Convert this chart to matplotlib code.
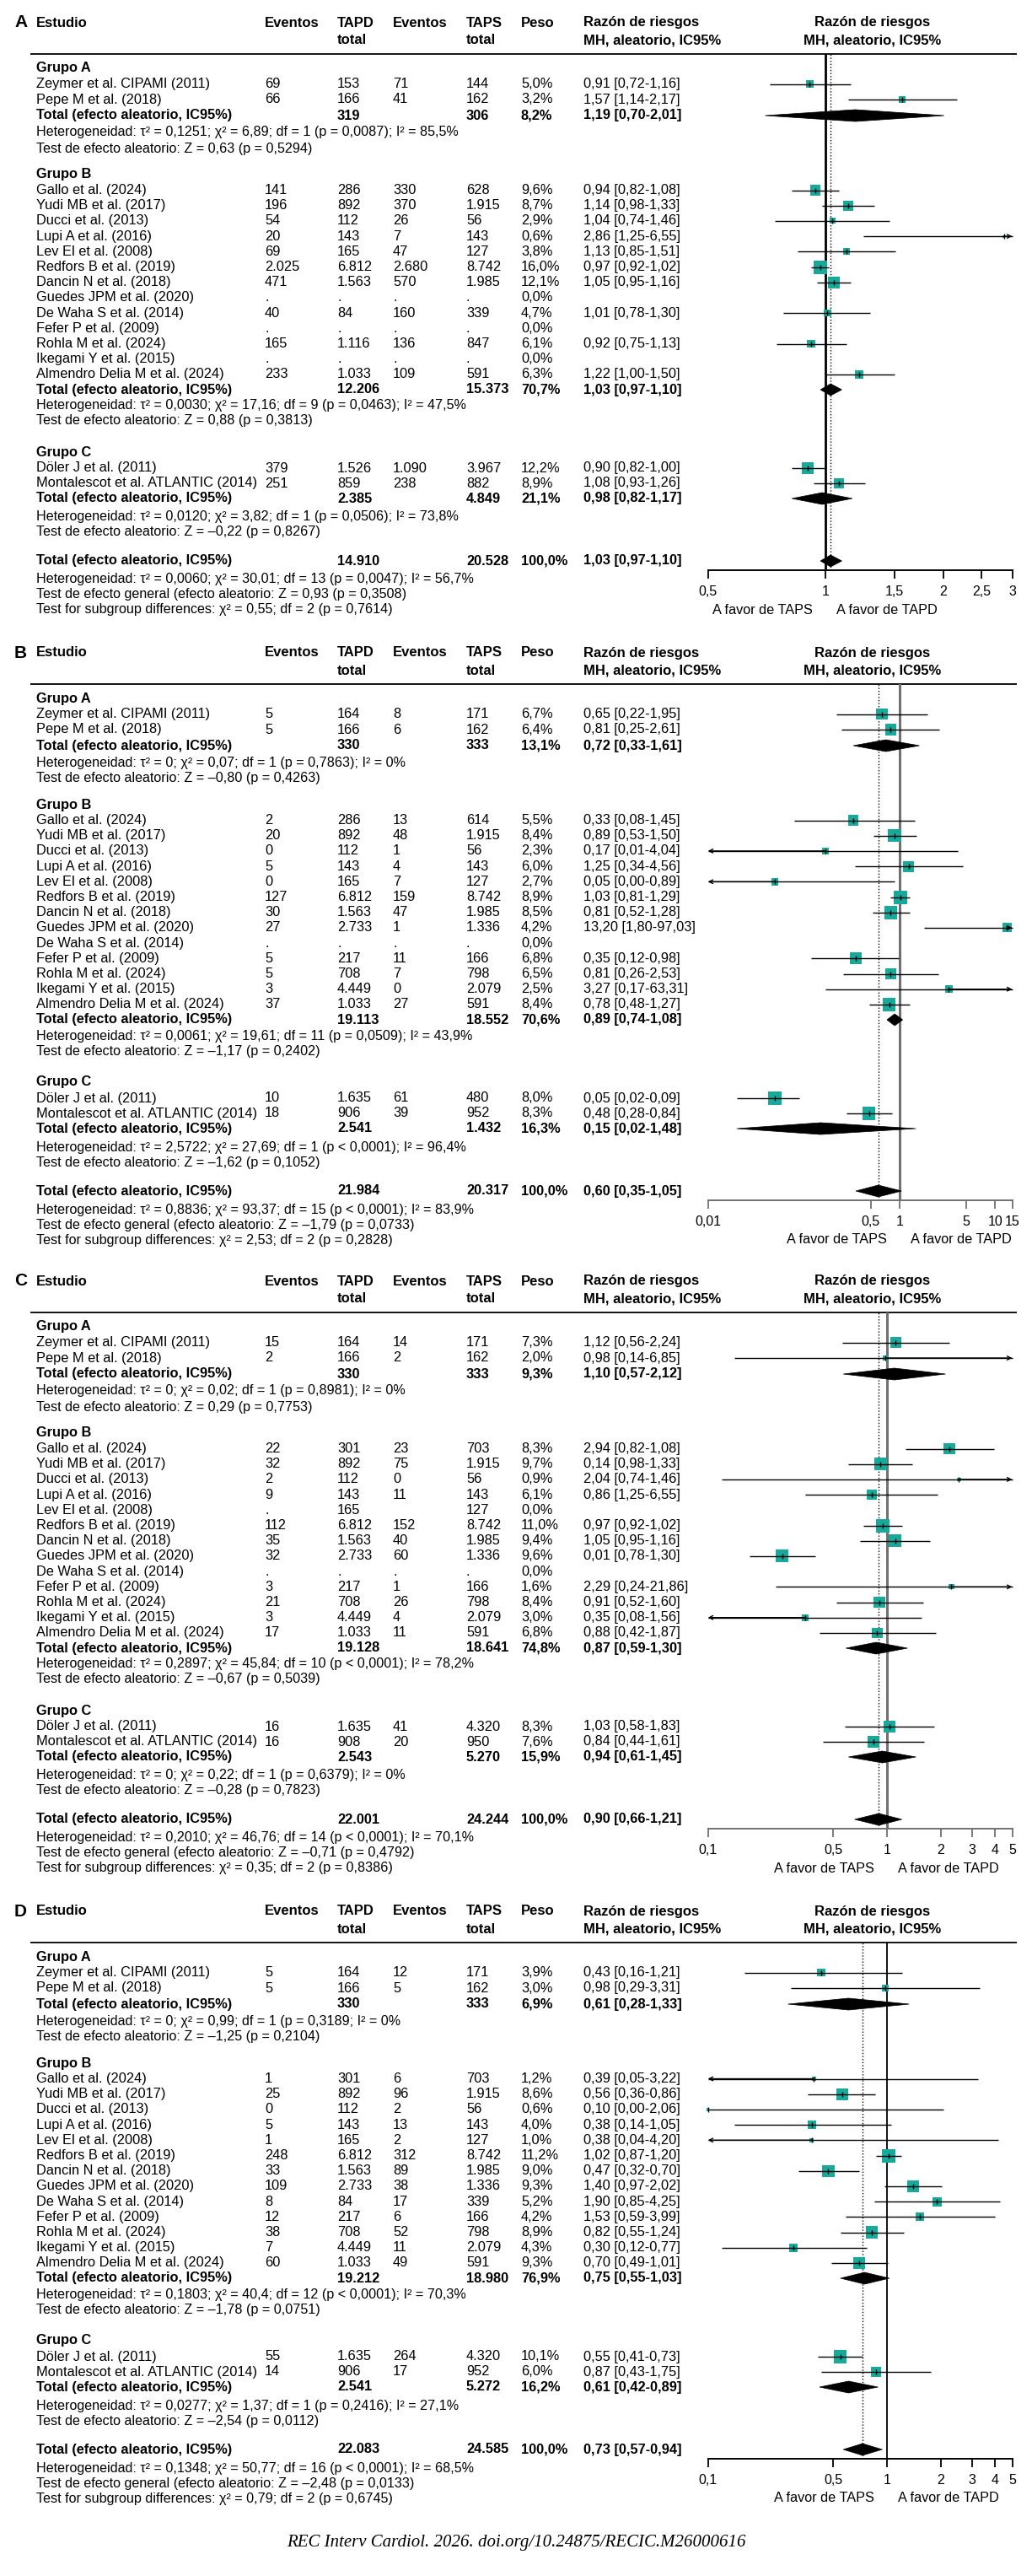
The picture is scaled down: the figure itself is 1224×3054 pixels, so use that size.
import numpy as np
import matplotlib
matplotlib.use("Agg")
import matplotlib.pyplot as plt
from matplotlib.patches import Polygon
from matplotlib.ticker import FixedLocator, FixedFormatter, NullLocator
from matplotlib.transforms import blended_transform_factory, offset_copy

plt.rcParams['font.family'] = ['Liberation Sans', 'DejaVu Sans']

nan = float('nan')

# ---------------------------------------------------------------- data
PANEL_LETTERS = ["A", "B", "C", "D"]
GROUP_NAMES = ["Grupo A", "Grupo B", "Grupo C"]
STUDIES = ["Zeymer et al. CIPAMI (2011)", "Pepe M et al. (2018)",
           "Gallo et al. (2024)", "Yudi MB et al. (2017)", "Ducci et al. (2013)",
           "Lupi A et al. (2016)", "Lev El et al. (2008)", "Redfors B et al. (2019)",
           "Dancin N et al. (2018)", "Guedes JPM et al. (2020)", "De Waha S et al. (2014)",
           "Fefer P et al. (2009)", "Rohla M et al. (2024)", "Ikegami Y et al. (2015)",
           "Almendro Delia M et al. (2024)",
           "Döler J et al. (2011)", "Montalescot et al. ATLANTIC (2014)"]
STUDY_GROUP = [0, 0] + [1] * 13 + [2, 2]

# ---- Panel A
A_ev_tapd = ["69", "66", "141", "196", "54", "20", "69", "2.025", "471", ".", "40", ".", "165", ".", "233", "379", "251"]
A_n_tapd = ["153", "166", "286", "892", "112", "143", "165", "6.812", "1.563", ".", "84", ".", "1.116", ".", "1.033", "1.526", "859"]
A_ev_taps = ["71", "41", "330", "370", "26", "7", "47", "2.680", "570", ".", "160", ".", "136", ".", "109", "1.090", "238"]
A_n_taps = ["144", "162", "628", "1.915", "56", "143", "127", "8.742", "1.985", ".", "339", ".", "847", ".", "591", "3.967", "882"]
A_peso = ["5,0%", "3,2%", "9,6%", "8,7%", "2,9%", "0,6%", "3,8%", "16,0%", "12,1%", "0,0%", "4,7%", "0,0%", "6,1%", "0,0%", "6,3%", "12,2%", "8,9%"]
A_rr_text = ["0,91 [0,72-1,16]", "1,57 [1,14-2,17]", "0,94 [0,82-1,08]", "1,14 [0,98-1,33]", "1,04 [0,74-1,46]",
             "2,86 [1,25-6,55]", "1,13 [0,85-1,51]", "0,97 [0,92-1,02]", "1,05 [0,95-1,16]", "", "1,01 [0,78-1,30]",
             "", "0,92 [0,75-1,13]", "", "1,22 [1,00-1,50]", "0,90 [0,82-1,00]", "1,08 [0,93-1,26]"]
A_rr = [0.91, 1.57, 0.94, 1.14, 1.04, 2.86, 1.13, 0.97, 1.05, nan, 1.01, nan, 0.92, nan, 1.22, 0.90, 1.08]
A_lo = [0.72, 1.14, 0.82, 0.98, 0.74, 1.25, 0.85, 0.92, 0.95, nan, 0.78, nan, 0.75, nan, 1.00, 0.82, 0.93]
A_hi = [1.16, 2.17, 1.08, 1.33, 1.46, 6.55, 1.51, 1.02, 1.16, nan, 1.30, nan, 1.13, nan, 1.50, 1.00, 1.26]
A_tot_n_tapd = ["319", "12.206", "2.385", "14.910"]
A_tot_n_taps = ["306", "15.373", "4.849", "20.528"]
A_tot_peso = ["8,2%", "70,7%", "21,1%", "100,0%"]
A_tot_text = ["1,19 [0,70-2,01]", "1,03 [0,97-1,10]", "0,98 [0,82-1,17]", "1,03 [0,97-1,10]"]
A_tot_rr = [1.19, 1.03, 0.98, 1.03]
A_tot_lo = [0.70, 0.97, 0.82, 0.97]
A_tot_hi = [2.01, 1.10, 1.17, 1.10]
A_het = ["Heterogeneidad: τ² = 0,1251; χ² = 6,89; df = 1 (p = 0,0087); I² = 85,5%",
         "Heterogeneidad: τ² = 0,0030; χ² = 17,16; df = 9 (p = 0,0463); I² = 47,5%",
         "Heterogeneidad: τ² = 0,0120; χ² = 3,82; df = 1 (p = 0,0506); I² = 73,8%",
         "Heterogeneidad: τ² = 0,0060; χ² = 30,01; df = 13 (p = 0,0047); I² = 56,7%"]
A_test = ["Test de efecto aleatorio: Z = 0,63 (p = 0,5294)",
          "Test de efecto aleatorio: Z = 0,88 (p = 0,3813)",
          "Test de efecto aleatorio: Z = –0,22 (p = 0,8267)",
          "Test de efecto general (efecto aleatorio: Z = 0,93 (p = 0,3508)"]
A_subgroup = "Test for subgroup differences: χ² = 0,55; df = 2 (p = 0,7614)"
A_xlim = (0.5, 3)
A_ticks = [0.5, 1, 1.5, 2, 2.5, 3]
A_ticklabels = ["0,5", "1", "1,5", "2", "2,5", "3"]

# ---- Panel B
B_ev_tapd = ["5", "5", "2", "20", "0", "5", "0", "127", "30", "27", ".", "5", "5", "3", "37", "10", "18"]
B_n_tapd = ["164", "166", "286", "892", "112", "143", "165", "6.812", "1.563", "2.733", ".", "217", "708", "4.449", "1.033", "1.635", "906"]
B_ev_taps = ["8", "6", "13", "48", "1", "4", "7", "159", "47", "1", ".", "11", "7", "0", "27", "61", "39"]
B_n_taps = ["171", "162", "614", "1.915", "56", "143", "127", "8.742", "1.985", "1.336", ".", "166", "798", "2.079", "591", "480", "952"]
B_peso = ["6,7%", "6,4%", "5,5%", "8,4%", "2,3%", "6,0%", "2,7%", "8,9%", "8,5%", "4,2%", "0,0%", "6,8%", "6,5%", "2,5%", "8,4%", "8,0%", "8,3%"]
B_rr_text = ["0,65 [0,22-1,95]", "0,81 [0,25-2,61]", "0,33 [0,08-1,45]", "0,89 [0,53-1,50]", "0,17 [0,01-4,04]",
             "1,25 [0,34-4,56]", "0,05 [0,00-0,89]", "1,03 [0,81-1,29]", "0,81 [0,52-1,28]", "13,20 [1,80-97,03]", "",
             "0,35 [0,12-0,98]", "0,81 [0,26-2,53]", "3,27 [0,17-63,31]", "0,78 [0,48-1,27]", "0,05 [0,02-0,09]", "0,48 [0,28-0,84]"]
B_rr = [0.65, 0.81, 0.33, 0.89, 0.17, 1.25, 0.05, 1.03, 0.81, 13.20, nan, 0.35, 0.81, 3.27, 0.78, 0.05, 0.48]
B_lo = [0.22, 0.25, 0.08, 0.53, 0.01, 0.34, 0.003, 0.81, 0.52, 1.80, nan, 0.12, 0.26, 0.17, 0.48, 0.02, 0.28]
B_hi = [1.95, 2.61, 1.45, 1.50, 4.04, 4.56, 0.89, 1.29, 1.28, 97.03, nan, 0.98, 2.53, 63.31, 1.27, 0.09, 0.84]
B_tot_n_tapd = ["330", "19.113", "2.541", "21.984"]
B_tot_n_taps = ["333", "18.552", "1.432", "20.317"]
B_tot_peso = ["13,1%", "70,6%", "16,3%", "100,0%"]
B_tot_text = ["0,72 [0,33-1,61]", "0,89 [0,74-1,08]", "0,15 [0,02-1,48]", "0,60 [0,35-1,05]"]
B_tot_rr = [0.72, 0.89, 0.15, 0.60]
B_tot_lo = [0.33, 0.74, 0.02, 0.35]
B_tot_hi = [1.61, 1.08, 1.48, 1.05]
B_het = ["Heterogeneidad: τ² = 0; χ² = 0,07; df = 1 (p = 0,7863); I² = 0%",
         "Heterogeneidad: τ² = 0,0061; χ² = 19,61; df = 11 (p = 0,0509); I² = 43,9%",
         "Heterogeneidad: τ² = 2,5722; χ² = 27,69; df = 1 (p < 0,0001); I² = 96,4%",
         "Heterogeneidad: τ² = 0,8836; χ² = 93,37; df = 15 (p < 0,0001); I² = 83,9%"]
B_test = ["Test de efecto aleatorio: Z = –0,80 (p = 0,4263)",
          "Test de efecto aleatorio: Z = –1,17 (p = 0,2402)",
          "Test de efecto aleatorio: Z = –1,62 (p = 0,1052)",
          "Test de efecto general (efecto aleatorio: Z = –1,79 (p = 0,0733)"]
B_subgroup = "Test for subgroup differences: χ² = 2,53; df = 2 (p = 0,2828)"
B_xlim = (0.01, 15)
B_ticks = [0.01, 0.5, 1, 5, 10, 15]
B_ticklabels = ["0,01", "0,5", "1", "5", "10", "15"]

# ---- Panel C (label texts as printed; markers as drawn)
C_ev_tapd = ["15", "2", "22", "32", "2", "9", ".", "112", "35", "32", ".", "3", "21", "3", "17", "16", "16"]
C_n_tapd = ["164", "166", "301", "892", "112", "143", "165", "6.812", "1.563", "2.733", ".", "217", "708", "4.449", "1.033", "1.635", "908"]
C_ev_taps = ["14", "2", "23", "75", "0", "11", "", "152", "40", "60", ".", "1", "26", "4", "11", "41", "20"]
C_n_taps = ["171", "162", "703", "1.915", "56", "143", "127", "8.742", "1.985", "1.336", ".", "166", "798", "2.079", "591", "4.320", "950"]
C_peso = ["7,3%", "2,0%", "8,3%", "9,7%", "0,9%", "6,1%", "0,0%", "11,0%", "9,4%", "9,6%", "0,0%", "1,6%", "8,4%", "3,0%", "6,8%", "8,3%", "7,6%"]
C_rr_text = ["1,12 [0,56-2,24]", "0,98 [0,14-6,85]", "2,94 [0,82-1,08]", "0,14 [0,98-1,33]", "2,04 [0,74-1,46]",
             "0,86 [1,25-6,55]", "", "0,97 [0,92-1,02]", "1,05 [0,95-1,16]", "0,01 [0,78-1,30]", "",
             "2,29 [0,24-21,86]", "0,91 [0,52-1,60]", "0,35 [0,08-1,56]", "0,88 [0,42-1,87]", "1,03 [0,58-1,83]", "0,84 [0,44-1,61]"]
C_rr = [1.12, 0.98, 2.23, 0.92, 2.52, 0.82, nan, 0.95, 1.11, 0.26, nan, 2.29, 0.91, 0.35, 0.88, 1.03, 0.84]
C_lo = [0.56, 0.14, 1.27, 0.61, 0.12, 0.35, nan, 0.74, 0.71, 0.17, nan, 0.24, 0.52, 0.08, 0.42, 0.58, 0.44]
C_hi = [2.24, 6.85, 3.94, 1.38, 51.7, 1.92, nan, 1.21, 1.74, 0.40, nan, 21.86, 1.60, 1.56, 1.87, 1.83, 1.61]
C_tot_n_tapd = ["330", "19.128", "2.543", "22.001"]
C_tot_n_taps = ["333", "18.641", "5.270", "24.244"]
C_tot_peso = ["9,3%", "74,8%", "15,9%", "100,0%"]
C_tot_text = ["1,10 [0,57-2,12]", "0,87 [0,59-1,30]", "0,94 [0,61-1,45]", "0,90 [0,66-1,21]"]
C_tot_rr = [1.10, 0.87, 0.94, 0.90]
C_tot_lo = [0.57, 0.59, 0.61, 0.66]
C_tot_hi = [2.12, 1.30, 1.45, 1.21]
C_het = ["Heterogeneidad: τ² = 0; χ² = 0,02; df = 1 (p = 0,8981); I² = 0%",
         "Heterogeneidad: τ² = 0,2897; χ² = 45,84; df = 10 (p < 0,0001); I² = 78,2%",
         "Heterogeneidad: τ² = 0; χ² = 0,22; df = 1 (p = 0,6379); I² = 0%",
         "Heterogeneidad: τ² = 0,2010; χ² = 46,76; df = 14 (p < 0,0001); I² = 70,1%"]
C_test = ["Test de efecto aleatorio: Z = 0,29 (p = 0,7753)",
          "Test de efecto aleatorio: Z = –0,67 (p = 0,5039)",
          "Test de efecto aleatorio: Z = –0,28 (p = 0,7823)",
          "Test de efecto general (efecto aleatorio: Z = –0,71 (p = 0,4792)"]
C_subgroup = "Test for subgroup differences: χ² = 0,35; df = 2 (p = 0,8386)"
C_xlim = (0.1, 5)
C_ticks = [0.1, 0.5, 1, 2, 3, 4, 5]
C_ticklabels = ["0,1", "0,5", "1", "2", "3", "4", "5"]

# ---- Panel D
D_ev_tapd = ["5", "5", "1", "25", "0", "5", "1", "248", "33", "109", "8", "12", "38", "7", "60", "55", "14"]
D_n_tapd = ["164", "166", "301", "892", "112", "143", "165", "6.812", "1.563", "2.733", "84", "217", "708", "4.449", "1.033", "1.635", "906"]
D_ev_taps = ["12", "5", "6", "96", "2", "13", "2", "312", "89", "38", "17", "6", "52", "11", "49", "264", "17"]
D_n_taps = ["171", "162", "703", "1.915", "56", "143", "127", "8.742", "1.985", "1.336", "339", "166", "798", "2.079", "591", "4.320", "952"]
D_peso = ["3,9%", "3,0%", "1,2%", "8,6%", "0,6%", "4,0%", "1,0%", "11,2%", "9,0%", "9,3%", "5,2%", "4,2%", "8,9%", "4,3%", "9,3%", "10,1%", "6,0%"]
D_rr_text = ["0,43 [0,16-1,21]", "0,98 [0,29-3,31]", "0,39 [0,05-3,22]", "0,56 [0,36-0,86]", "0,10 [0,00-2,06]",
             "0,38 [0,14-1,05]", "0,38 [0,04-4,20]", "1,02 [0,87-1,20]", "0,47 [0,32-0,70]", "1,40 [0,97-2,02]",
             "1,90 [0,85-4,25]", "1,53 [0,59-3,99]", "0,82 [0,55-1,24]", "0,30 [0,12-0,77]", "0,70 [0,49-1,01]",
             "0,55 [0,41-0,73]", "0,87 [0,43-1,75]"]
D_rr = [0.43, 0.98, 0.39, 0.56, 0.10, 0.38, 0.38, 1.02, 0.47, 1.40, 1.90, 1.53, 0.82, 0.30, 0.70, 0.55, 0.87]
D_lo = [0.16, 0.29, 0.05, 0.36, 0.005, 0.14, 0.04, 0.87, 0.32, 0.97, 0.85, 0.59, 0.55, 0.12, 0.49, 0.41, 0.43]
D_hi = [1.21, 3.31, 3.22, 0.86, 2.06, 1.05, 4.20, 1.20, 0.70, 2.02, 4.25, 3.99, 1.24, 0.77, 1.01, 0.73, 1.75]
D_tot_n_tapd = ["330", "19.212", "2.541", "22.083"]
D_tot_n_taps = ["333", "18.980", "5.272", "24.585"]
D_tot_peso = ["6,9%", "76,9%", "16,2%", "100,0%"]
D_tot_text = ["0,61 [0,28-1,33]", "0,75 [0,55-1,03]", "0,61 [0,42-0,89]", "0,73 [0,57-0,94]"]
D_tot_rr = [0.61, 0.75, 0.61, 0.73]
D_tot_lo = [0.28, 0.55, 0.42, 0.57]
D_tot_hi = [1.33, 1.03, 0.89, 0.94]
D_het = ["Heterogeneidad: τ² = 0; χ² = 0,99; df = 1 (p = 0,3189; I² = 0%",
         "Heterogeneidad: τ² = 0,1803; χ² = 40,4; df = 12 (p < 0,0001); I² = 70,3%",
         "Heterogeneidad: τ² = 0,0277; χ² = 1,37; df = 1 (p = 0,2416); I² = 27,1%",
         "Heterogeneidad: τ² = 0,1348; χ² = 50,77; df = 16 (p < 0,0001); I² = 68,5%"]
D_test = ["Test de efecto aleatorio: Z = –1,25 (p = 0,2104)",
          "Test de efecto aleatorio: Z = –1,78 (p = 0,0751)",
          "Test de efecto aleatorio: Z = –2,54 (p = 0,0112)",
          "Test de efecto general (efecto aleatorio: Z = –2,48 (p = 0,0133)"]
D_subgroup = "Test for subgroup differences: χ² = 0,79; df = 2 (p = 0,6745)"
D_xlim = (0.1, 5)
D_ticks = [0.1, 0.5, 1, 2, 3, 4, 5]
D_ticklabels = ["0,1", "0,5", "1", "2", "3", "4", "5"]

CAPTION = "REC Interv Cardiol. 2026. doi.org/10.24875/RECIC.M26000616"

PANELS = [
    dict(ev1=A_ev_tapd, n1=A_n_tapd, ev2=A_ev_taps, n2=A_n_taps, peso=A_peso, rrt=A_rr_text,
         rr=A_rr, lo=A_lo, hi=A_hi, tn1=A_tot_n_tapd, tn2=A_tot_n_taps, tpeso=A_tot_peso,
         ttext=A_tot_text, trr=A_tot_rr, tlo=A_tot_lo, thi=A_tot_hi, het=A_het, test=A_test,
         sub=A_subgroup, xlim=A_xlim, ticks=A_ticks, tl=A_ticklabels),
    dict(ev1=B_ev_tapd, n1=B_n_tapd, ev2=B_ev_taps, n2=B_n_taps, peso=B_peso, rrt=B_rr_text,
         rr=B_rr, lo=B_lo, hi=B_hi, tn1=B_tot_n_tapd, tn2=B_tot_n_taps, tpeso=B_tot_peso,
         ttext=B_tot_text, trr=B_tot_rr, tlo=B_tot_lo, thi=B_tot_hi, het=B_het, test=B_test,
         sub=B_subgroup, xlim=B_xlim, ticks=B_ticks, tl=B_ticklabels),
    dict(ev1=C_ev_tapd, n1=C_n_tapd, ev2=C_ev_taps, n2=C_n_taps, peso=C_peso, rrt=C_rr_text,
         rr=C_rr, lo=C_lo, hi=C_hi, tn1=C_tot_n_tapd, tn2=C_tot_n_taps, tpeso=C_tot_peso,
         ttext=C_tot_text, trr=C_tot_rr, tlo=C_tot_lo, thi=C_tot_hi, het=C_het, test=C_test,
         sub=C_subgroup, xlim=C_xlim, ticks=C_ticks, tl=C_ticklabels),
    dict(ev1=D_ev_tapd, n1=D_n_tapd, ev2=D_ev_taps, n2=D_n_taps, peso=D_peso, rrt=D_rr_text,
         rr=D_rr, lo=D_lo, hi=D_hi, tn1=D_tot_n_tapd, tn2=D_tot_n_taps, tpeso=D_tot_peso,
         ttext=D_tot_text, trr=D_tot_rr, tlo=D_tot_lo, thi=D_tot_hi, het=D_het, test=D_test,
         sub=D_subgroup, xlim=D_xlim, ticks=D_ticks, tl=D_ticklabels),
]

# ---------------------------------------------------------------- layout / style
FIG_W, FIG_H = 1224, 3054
PANEL_Y0 = [27, 774, 1519, 2266]
COL = dict(study=43, ev1=314, n1=400, ev2=466, n2=553, peso=618, rr=691.5)
FOREST_L, FOREST_R = 839.6, 1200.5
RIGHT_HDR_X = 1035
TEAL = '#18a99b'
VLINE_STYLE = [('black', 2.0), ('#707070', 2.2), ('#707070', 2.2), ('black', 1.3)]

OFF_HEAD2, OFF_RULE = 21, 37
OFF_GRP = [54, 180, 509]
OFF_ROWS = [72.5, 91.0] + [198.5 + 18.2 * i for i in range(13)] + [528.0, 546.0]
OFF_TOT = [110, 435, 564, 638]
OFF_HET = [130, 454, 586, 660]
OFF_TEST = [149, 472, 604, 678]
OFF_SUB = 696
OFF_AXIS, OFF_FAVOR = 649, 696
DIAMOND_HALF = 7.0

FS_ROW = 11.8
FS_HDR = 12
FS_NOTE = 11.6

fig = plt.figure(figsize=(FIG_W / 100, FIG_H / 100), dpi=100)
fig.patch.set_facecolor('white')
tax = fig.add_axes([0, 0, 1, 1])
tax.set_xlim(0, FIG_W)
tax.set_ylim(FIG_H, 0)
tax.axis('off')


def txt(x, y, s, bold=False, size=FS_ROW, ha='left'):
    tax.text(x, y, s, fontsize=size, fontweight='bold' if bold else 'normal',
             ha=ha, va='center', color='black')


for p, (P, y0) in enumerate(zip(PANELS, PANEL_Y0)):
    # header
    txt(17, y0, PANEL_LETTERS[p], bold=True, size=15)
    txt(COL['study'], y0, 'Estudio', bold=True, size=FS_HDR)
    txt(COL['ev1'], y0, 'Eventos', bold=True, size=FS_HDR)
    txt(COL['n1'], y0, 'TAPD', bold=True, size=FS_HDR)
    txt(COL['n1'], y0 + OFF_HEAD2, 'total', bold=True, size=FS_HDR)
    txt(COL['ev2'], y0, 'Eventos', bold=True, size=FS_HDR)
    txt(COL['n2'], y0, 'TAPS', bold=True, size=FS_HDR)
    txt(COL['n2'], y0 + OFF_HEAD2, 'total', bold=True, size=FS_HDR)
    txt(COL['peso'], y0, 'Peso', bold=True, size=FS_HDR)
    txt(COL['rr'], y0, 'Razón de riesgos', bold=True, size=FS_HDR)
    txt(COL['rr'], y0 + OFF_HEAD2, 'MH, aleatorio, IC95%', bold=True, size=FS_HDR)
    txt(RIGHT_HDR_X, y0, 'Razón de riesgos', bold=True, size=FS_HDR, ha='center')
    txt(RIGHT_HDR_X, y0 + OFF_HEAD2, 'MH, aleatorio, IC95%', bold=True, size=FS_HDR, ha='center')
    tax.plot([36, 1206], [y0 + OFF_RULE] * 2, color='black', lw=1.3, solid_capstyle='butt')

    # groups
    for g in range(3):
        txt(COL['study'], y0 + OFF_GRP[g], GROUP_NAMES[g], bold=True)
        txt(COL['study'], y0 + OFF_TOT[g], 'Total (efecto aleatorio, IC95%)', bold=True)
        txt(COL['n1'], y0 + OFF_TOT[g], P['tn1'][g], bold=True)
        txt(COL['n2'], y0 + OFF_TOT[g], P['tn2'][g], bold=True)
        txt(COL['peso'], y0 + OFF_TOT[g], P['tpeso'][g], bold=True)
        txt(COL['rr'], y0 + OFF_TOT[g], P['ttext'][g], bold=True)
        txt(COL['study'], y0 + OFF_HET[g], P['het'][g], size=FS_NOTE)
        txt(COL['study'], y0 + OFF_TEST[g], P['test'][g], size=FS_NOTE)
    # overall
    txt(COL['study'], y0 + OFF_TOT[3], 'Total (efecto aleatorio, IC95%)', bold=True)
    txt(COL['n1'], y0 + OFF_TOT[3], P['tn1'][3], bold=True)
    txt(COL['n2'], y0 + OFF_TOT[3], P['tn2'][3], bold=True)
    txt(COL['peso'], y0 + OFF_TOT[3], P['tpeso'][3], bold=True)
    txt(COL['rr'], y0 + OFF_TOT[3], P['ttext'][3], bold=True)
    txt(COL['study'], y0 + OFF_HET[3], P['het'][3], size=FS_NOTE)
    txt(COL['study'], y0 + OFF_TEST[3], P['test'][3], size=FS_NOTE)
    txt(COL['study'], y0 + OFF_SUB, P['sub'], size=FS_NOTE)

    # study rows
    for i, name in enumerate(STUDIES):
        y = y0 + OFF_ROWS[i]
        txt(COL['study'], y, name)
        txt(COL['ev1'], y, P['ev1'][i])
        txt(COL['n1'], y, P['n1'][i])
        txt(COL['ev2'], y, P['ev2'][i])
        txt(COL['n2'], y, P['n2'][i])
        txt(COL['peso'], y, P['peso'][i])
        txt(COL['rr'], y, P['rrt'][i])

    # forest axes
    ax = fig.add_axes([FOREST_L / FIG_W, 1 - (y0 + OFF_AXIS) / FIG_H,
                       (FOREST_R - FOREST_L) / FIG_W, (OFF_AXIS - OFF_RULE) / FIG_H])
    ax.patch.set_alpha(0)
    ax.set_xscale('log')
    xmin, xmax = P['xlim']
    ax.set_xlim(xmin, xmax)
    ax.set_ylim(y0 + OFF_AXIS, y0 + OFF_RULE)
    for s in ['top', 'left', 'right']:
        ax.spines[s].set_visible(False)
    vcol, vlw = VLINE_STYLE[p]
    ax.spines['bottom'].set_color(vcol)
    ax.spines['bottom'].set_linewidth(1.4)
    ax.yaxis.set_visible(False)
    ax.xaxis.set_major_locator(FixedLocator(P['ticks']))
    ax.xaxis.set_major_formatter(FixedFormatter(P['tl']))
    ax.xaxis.set_minor_locator(NullLocator())
    ax.tick_params(axis='x', direction='out', length=7, width=1.3, pad=6,
                   labelsize=11.5, color=vcol)

    ax.axvline(1, color=vcol, lw=vlw, zorder=2)
    ax.axvline(P['trr'][3], color='black', lw=1.0, ls=(0, (1, 1.6)), zorder=2)

    # studies
    rr = np.array(P['rr'], float)
    lo = np.array(P['lo'], float)
    hi = np.array(P['hi'], float)
    w = np.array([float(s.replace('%', '').replace(',', '.')) for s in P['peso']])
    wmax = w.max()
    ys = np.array([y0 + o for o in OFF_ROWS])
    ok = ~np.isnan(rr)
    side_pt = 16 * np.sqrt(w[ok] / wmax) * 0.72
    ax.scatter(rr[ok], ys[ok], s=side_pt ** 2, marker='s', color=TEAL,
               linewidths=0, zorder=3, clip_on=False)
    for i in np.where(ok)[0]:
        y = ys[i]
        l = max(lo[i], xmin)
        h = min(hi[i], xmax)
        ax.plot([l, h], [y, y], color='black', lw=1.0, zorder=4, clip_on=False,
                solid_capstyle='butt')
        if lo[i] <= xmin:
            ax.annotate('', xy=(xmin, y), xytext=(rr[i], y), zorder=4,
                        arrowprops=dict(arrowstyle='->', lw=1.0, color='black',
                                        shrinkA=0, shrinkB=0, mutation_scale=8))
        if hi[i] > xmax:
            ax.annotate('', xy=(xmax, y), xytext=(rr[i], y), zorder=4,
                        arrowprops=dict(arrowstyle='->', lw=1.0, color='black',
                                        shrinkA=0, shrinkB=0, mutation_scale=8))
        ax.plot([rr[i]], [y], marker='|', ms=5, mew=1.0, color='black', zorder=5,
                clip_on=False)

    # diamonds
    for g in range(4):
        yc = y0 + OFF_TOT[g]
        poly = Polygon([(P['tlo'][g], yc), (P['trr'][g], yc - DIAMOND_HALF),
                        (P['thi'][g], yc), (P['trr'][g], yc + DIAMOND_HALF)],
                       closed=True, facecolor='black', edgecolor='black', lw=0.5, zorder=4)
        ax.add_patch(poly)

    # favour labels
    trans = blended_transform_factory(ax.transData, tax.transData)
    tax.text(1, y0 + OFF_FAVOR, 'A favor de TAPS', fontsize=11.7, ha='right', va='center',
             transform=offset_copy(trans, fig=fig, x=-15, units='dots'))
    tax.text(1, y0 + OFF_FAVOR, 'A favor de TAPD', fontsize=11.7, ha='left', va='center',
             transform=offset_copy(trans, fig=fig, x=13, units='dots'))

tax.text(612, 3015, CAPTION, fontsize=15, fontstyle='italic', ha='center', va='center',
         fontfamily=['Liberation Serif', 'DejaVu Serif'])

fig.savefig('out.png', dpi=100, facecolor='white')
